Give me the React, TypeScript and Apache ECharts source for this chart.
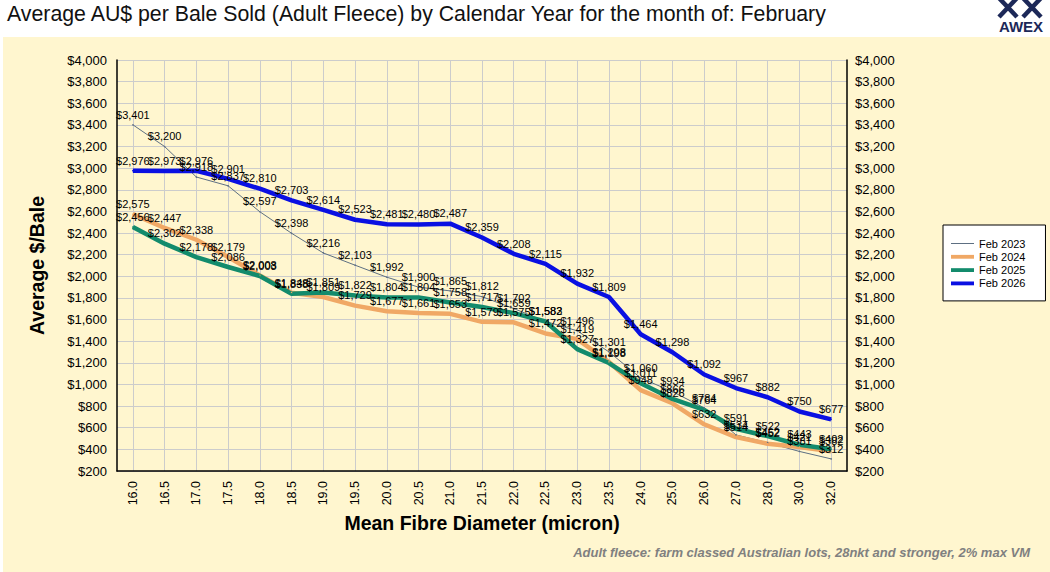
import React, { useEffect, useRef } from 'react';
import * as echarts from 'echarts';

const categories = ['16.0', '16.5', '17.0', '17.5', '18.0', '18.5', '19.0', '19.5', '20.0', '20.5', '21.0', '21.5', '22.0', '22.5', '23.0', '23.5', '24.0', '25.0', '26.0', '27.0', '28.0', '30.0', '32.0'];
const feb2023 = [3401, 3200, 2918, 2837, 2597, 2398, 2216, 2103, 1992, 1900, 1865, 1812, 1702, 1583, 1496, 1301, 1060, 934, 784, 534, 462, 381, 312];
const feb2024 = [2575, 2447, 2338, 2179, 2008, 1848, 1809, 1729, 1677, 1661, 1653, 1579, 1575, 1472, 1419, 1208, 948, 826, 632, 514, 452, 421, 382];
const feb2025 = [2456, 2302, 2178, 2086, 2003, 1838, 1851, 1822, 1804, 1804, 1758, 1717, 1659, 1582, 1327, 1198, 1011, 866, 764, 591, 522, 443, 402];
const feb2026 = [2976, 2973, 2976, 2901, 2810, 2703, 2614, 2523, 2481, 2480, 2487, 2359, 2208, 2115, 1932, 1809, 1464, 1298, 1092, 967, 882, 750, 677];
const seriesNames = ['Feb 2023', 'Feb 2024', 'Feb 2025', 'Feb 2026'];
const yMin = 200;
const yMax = 4000;
const yStep = 200;

const FONT = '"Liberation Sans", Arial, sans-serif';
const money = (v: number) => '$' + Number(v).toLocaleString('en-US');

export default function App() {
  const ref = useRef<HTMLDivElement>(null);
  useEffect(() => {
    const chart = echarts.init(ref.current as HTMLDivElement, null, { renderer: 'svg' });
    const mk = (name: string, data: number[], color: string, width: number) => ({
      name,
      type: 'line',
      data,
      symbol: 'circle',
      symbolSize: 1.5,
      showSymbol: true,
      lineStyle: { color, width },
      itemStyle: { color },
      label: {
        show: true,
        position: 'top',
        distance: 4,
        color: '#000',
        fontSize: 11,
        fontFamily: FONT,
        formatter: (p: any) => money(p.value),
      },
      emphasis: { disabled: true },
    });
    const colors = ['#5D6F82', '#F0A865', '#138B6C', '#0A10E2'];
    const widths = [1, 4.5, 4.5, 4.5];
    const seriesData = [feb2023, feb2024, feb2025, feb2026];
    const yAxisBase = {
      type: 'value',
      min: yMin,
      max: yMax,
      interval: yStep,
      axisTick: { show: false },
      axisLabel: { color: '#000', fontSize: 13, fontFamily: FONT, formatter: (v: number) => money(v) },
    };
    chart.setOption({
      animation: false,
      backgroundColor: 'transparent',
      textStyle: { fontFamily: FONT },
      title: {
        text: 'Average AU$ per Bale Sold (Adult Fleece) by Calendar Year for the month of: February',
        left: 7,
        top: 3,
        padding: 0,
        textStyle: { fontSize: 21.3, fontWeight: 'normal', color: '#111', fontFamily: FONT },
      },
      legend: {
        orient: 'vertical',
        left: 943,
        top: 225,
        padding: [13, 20, 12, 8],
        backgroundColor: '#fff',
        borderColor: '#000',
        borderWidth: 1,
        borderRadius: 0,
        itemWidth: 23,
        itemHeight: 12,
        itemGap: 2.3,
        textStyle: { fontSize: 11, color: '#000', fontFamily: FONT },
        data: seriesNames.map((n, i) => ({
          name: n,
          icon: i === 0 ? 'path://M0 0H30V1.3H0Z' : 'path://M0 0H30V5H0Z',
        })),
      },
      grid: { left: 117, right: 203, top: 60, bottom: 101, containLabel: false },
      xAxis: {
        type: 'category',
        data: categories,
        boundaryGap: true,
        name: 'Mean Fibre Diameter (micron)',
        nameLocation: 'middle',
        nameGap: 42,
        nameTextStyle: { fontSize: 19.5, fontWeight: 'bold', color: '#000', fontFamily: FONT },
        axisLine: { lineStyle: { color: '#000', width: 1.5 } },
        axisTick: { show: false },
        axisLabel: { rotate: 90, margin: 10, fontSize: 12.5, color: '#000', fontFamily: FONT, interval: 0 },
        splitLine: { show: true, alignWithLabel: true, lineStyle: { color: '#CCCCCC', width: 1 } },
      },
      yAxis: [
        {
          ...yAxisBase,
          position: 'left',
          name: 'Average $/Bale',
          nameLocation: 'middle',
          nameGap: 70,
          nameTextStyle: { fontSize: 19.5, fontWeight: 'bold', color: '#000', fontFamily: FONT },
          axisLine: { show: true, lineStyle: { color: '#000', width: 1.5 } },
          axisLabel: { ...yAxisBase.axisLabel, margin: 10 },
          splitLine: { show: true, lineStyle: { color: '#CCCCCC', width: 1 } },
        },
        {
          ...yAxisBase,
          position: 'right',
          axisLine: { show: true, lineStyle: { color: '#000', width: 1.5 } },
          axisLabel: { ...yAxisBase.axisLabel, margin: 8 },
          splitLine: { show: false },
        },
      ],
      graphic: [
        {
          type: 'text',
          x: 1030,
          y: 552,
          style: {
            text: 'Adult fleece: farm classed Australian lots, 28nkt and stronger, 2% max VM',
            font: 'italic bold 13px "Liberation Sans", Arial, sans-serif',
            fill: '#808080',
            textAlign: 'right',
            textVerticalAlign: 'middle',
          },
        },
        {
          type: 'group',
          children: [
            { type: 'line', shape: { x1: 999, y1: -2, x2: 1017, y2: 17 }, style: { stroke: '#1C2858', lineWidth: 4.5 } },
            { type: 'line', shape: { x1: 1017, y1: -2, x2: 999, y2: 17 }, style: { stroke: '#1C2858', lineWidth: 4.5 } },
            { type: 'line', shape: { x1: 1023, y1: -2, x2: 1041, y2: 17 }, style: { stroke: '#1C2858', lineWidth: 4.5 } },
            { type: 'line', shape: { x1: 1041, y1: -2, x2: 1023, y2: 17 }, style: { stroke: '#1C2858', lineWidth: 4.5 } },
            {
              type: 'text',
              x: 1021,
              y: 26,
              style: {
                text: 'AWEX',
                font: 'bold 15px "Liberation Sans", Arial, sans-serif',
                fill: '#1C2858',
                textAlign: 'center',
                textVerticalAlign: 'middle',
              },
            },
          ],
        },
      ],
      series: seriesNames.map((n, i) => mk(n, seriesData[i], colors[i], widths[i])),
    });
    return () => chart.dispose();
  }, []);

  return (
    <div style={{ position: 'fixed', left: 0, top: 0, width: 1050, height: 572, background: '#fff', overflow: 'hidden' }}>
      <div style={{ position: 'absolute', left: 3, top: 37, right: 0, bottom: 0, background: '#FFF6CF' }} />
      <div ref={ref} style={{ position: 'absolute', left: 0, top: 0, width: 1050, height: 572 }} />
    </div>
  );
}
